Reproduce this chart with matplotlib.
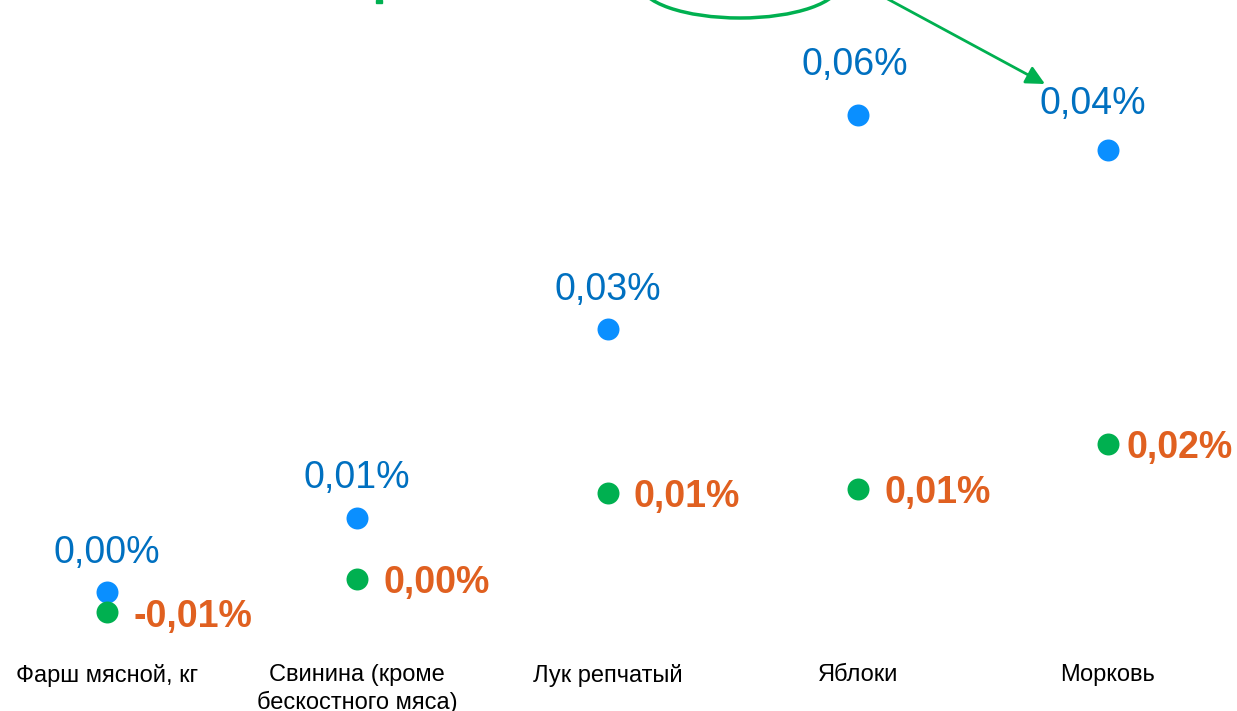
import matplotlib.pyplot as plt
from matplotlib.patches import Ellipse, Rectangle

# categories and values (share of price change, %)
categories = ["Фарш мясной, кг", "Свинина (кроме\nбескостного мяса)", "Лук репчатый", "Яблоки", "Морковь"]
blue_values = [-0.0003, 0.009, 0.0326, 0.0594, 0.055]
green_values = [-0.0028, 0.0014, 0.0121, 0.0126, 0.0183]
blue_labels = ["0,00%", "0,01%", "0,03%", "0,06%", "0,04%"]
green_labels = ["-0,01%", "0,00%", "0,01%", "0,01%", "0,02%"]

# label nudges (points) where the original labels sit off-centre
blue_dx = [0, 0, 0, -2, -11]
blue_dy = [28.5, 28.5, 28.5, 36, 33]
green_dx = [19, 19, 19, 19, 13]

plt.rcParams['font.family'] = ['Liberation Sans', 'DejaVu Sans']

fig = plt.figure(figsize=(12.37, 7.11), dpi=100)
ax = fig.add_axes([0, 0, 1, 1])
x = list(range(len(categories)))

ax.scatter(x, blue_values, s=250, color='#0A8FFF', zorder=3, linewidths=0)
ax.scatter(x, green_values, s=250, color='#00B050', zorder=3, linewidths=0)

for xi, v, lab, dx, dy in zip(x, blue_values, blue_labels, blue_dx, blue_dy):
    ax.annotate(lab, (xi, v), xytext=(dx, dy), textcoords='offset points',
                ha='center', va='center', fontsize=27, color='#0070C0')
for xi, v, lab, dx in zip(x, green_values, green_labels, green_dx):
    ax.annotate(lab, (xi, v), xytext=(dx, -3), textcoords='offset points',
                ha='left', va='center', fontsize=27, fontweight='bold', color='#E06020')

for xi, c in zip(x, categories):
    ax.annotate(c, (xi, 0), xycoords=('data', 'figure pixels'), xytext=(0, 34),
                textcoords='offset points', ha='center', va='top', fontsize=17,
                color='black', linespacing=1.3)

ax.set_xlim(-0.4276, 4.5155)
ax.set_ylim(-0.015125, 0.07375)
ax.axis('off')

# decorations cut by the top edge of the picture
fig.patches.append(Ellipse((740 / 1237, 1 + 16.7 / 711), 200 / 1237, 69.4 / 711,
                           transform=fig.transFigure, fill=False,
                           edgecolor='#00B050', linewidth=2.5))
fig.patches.append(Rectangle((376 / 1237, 1 - 3 / 711), 6 / 1237, 3 / 711,
                             transform=fig.transFigure, color='#00B050'))
ax.annotate('', xy=(1045, 711 - 84), xycoords='figure pixels',
            xytext=(884, 711 + 3), textcoords='figure pixels',
            arrowprops=dict(arrowstyle='-|>', color='#00B050', lw=2,
                            mutation_scale=28, shrinkA=0, shrinkB=0))

fig.savefig('out.png', dpi=100)
